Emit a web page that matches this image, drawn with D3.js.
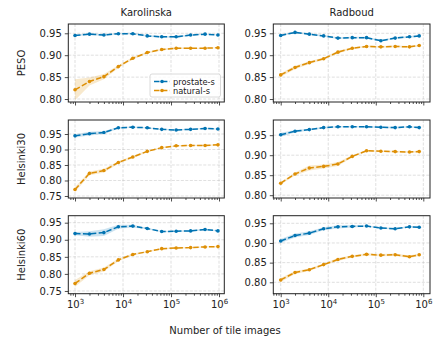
<!DOCTYPE html>
<html>
<head>
<meta charset="utf-8">
<script src="https://cdn.jsdelivr.net/npm/d3@7"></script>
<style>
  body { margin: 0; background: #fff; }
  text { font-family: "DejaVu Sans", sans-serif; fill: #222; }
</style>
</head>
<body>
<svg id="chart" width="438" height="344"></svg>
<script>
// data
var sites = ["Karolinska", "Radboud"];
var testSets = ["PESO", "Helsinki30", "Helsinki60"];
var seriesNames = ["prostate-s", "natural-s"];

var tilesKarolinska = [1000, 2000, 4000, 8000, 16000, 32000, 64000, 128000, 256000, 512000, 950000];
var tilesRadboud = [1000, 2000, 4000, 8000, 16000, 32000, 64000, 128000, 256000, 512000, 820000];

var karPesoProstate = [0.945, 0.948, 0.946, 0.949, 0.949, 0.944, 0.942, 0.942, 0.946, 0.948, 0.946];
var karPesoProstateErr = [0.002, 0.002, 0.002, 0.002, 0.002, 0.002, 0.002, 0.002, 0.002, 0.001, 0.001];
var karPesoNatural = [0.821, 0.840, 0.851, 0.874, 0.893, 0.906, 0.913, 0.916, 0.916, 0.916, 0.917];
var karPesoNaturalErr = [0.024, 0.009, 0.006, 0.003, 0.003, 0.002, 0.002, 0.002, 0.001, 0.001, 0.001];

var radPesoProstate = [0.945, 0.952, 0.948, 0.944, 0.939, 0.940, 0.940, 0.933, 0.939, 0.942, 0.944];
var radPesoProstateErr = [0.002, 0.002, 0.002, 0.002, 0.002, 0.002, 0.002, 0.002, 0.002, 0.002, 0.002];
var radPesoNatural = [0.855, 0.872, 0.883, 0.892, 0.907, 0.916, 0.920, 0.919, 0.920, 0.919, 0.922];
var radPesoNaturalErr = [0.004, 0.004, 0.003, 0.003, 0.003, 0.002, 0.002, 0.002, 0.002, 0.002, 0.002];

var karH30Prostate = [0.944, 0.951, 0.955, 0.970, 0.972, 0.970, 0.965, 0.963, 0.965, 0.968, 0.966];
var karH30ProstateErr = [0.005, 0.006, 0.005, 0.003, 0.002, 0.002, 0.002, 0.002, 0.002, 0.002, 0.002];
var karH30Natural = [0.771, 0.823, 0.832, 0.858, 0.876, 0.894, 0.906, 0.912, 0.913, 0.913, 0.915];
var karH30NaturalErr = [0.008, 0.006, 0.006, 0.004, 0.004, 0.003, 0.002, 0.002, 0.002, 0.002, 0.002];

var radH30Prostate = [0.951, 0.960, 0.964, 0.969, 0.971, 0.971, 0.971, 0.970, 0.969, 0.971, 0.969];
var radH30ProstateErr = [0.005, 0.003, 0.002, 0.002, 0.002, 0.002, 0.002, 0.002, 0.002, 0.002, 0.002];
var radH30Natural = [0.830, 0.853, 0.868, 0.872, 0.878, 0.897, 0.911, 0.910, 0.909, 0.908, 0.909];
var radH30NaturalErr = [0.003, 0.004, 0.006, 0.005, 0.005, 0.003, 0.002, 0.002, 0.002, 0.002, 0.002];

var karH60Prostate = [0.918, 0.917, 0.921, 0.938, 0.940, 0.933, 0.924, 0.925, 0.926, 0.930, 0.926];
var karH60ProstateErr = [0.005, 0.008, 0.010, 0.006, 0.004, 0.002, 0.002, 0.002, 0.002, 0.002, 0.002];
var karH60Natural = [0.772, 0.802, 0.813, 0.841, 0.857, 0.865, 0.874, 0.876, 0.877, 0.879, 0.880];
var karH60NaturalErr = [0.010, 0.006, 0.006, 0.004, 0.003, 0.002, 0.002, 0.002, 0.002, 0.002, 0.002];

var radH60Prostate = [0.905, 0.919, 0.925, 0.936, 0.941, 0.942, 0.943, 0.938, 0.936, 0.941, 0.940];
var radH60ProstateErr = [0.005, 0.005, 0.005, 0.004, 0.004, 0.003, 0.002, 0.002, 0.002, 0.002, 0.002];
var radH60Natural = [0.806, 0.825, 0.832, 0.845, 0.858, 0.866, 0.871, 0.869, 0.870, 0.865, 0.870];
var radH60NaturalErr = [0.005, 0.004, 0.003, 0.003, 0.004, 0.003, 0.003, 0.003, 0.003, 0.003, 0.003];

var yTicksShort = [0.80, 0.85, 0.90, 0.95];
var yTicksLong = [0.75, 0.80, 0.85, 0.90, 0.95];
var xTicks = [1e3, 1e4, 1e5, 1e6];

// panels: [row][col]
var panels = [
  [{ x: tilesKarolinska, s: [[karPesoProstate, karPesoProstateErr], [karPesoNatural, karPesoNaturalErr]], yt: yTicksShort, yd: [0.7932, 0.9712] },
   { x: tilesRadboud, s: [[radPesoProstate, radPesoProstateErr], [radPesoNatural, radPesoNaturalErr]], yt: yTicksShort, yd: [0.7932, 0.9712] }],
  [{ x: tilesKarolinska, s: [[karH30Prostate, karH30ProstateErr], [karH30Natural, karH30NaturalErr]], yt: yTicksLong, yd: [0.7435, 0.9952] },
   { x: tilesRadboud, s: [[radH30Prostate, radH30ProstateErr], [radH30Natural, radH30NaturalErr]], yt: yTicksShort, yd: [0.793, 0.988] }],
  [{ x: tilesKarolinska, s: [[karH60Prostate, karH60ProstateErr], [karH60Natural, karH60NaturalErr]], yt: yTicksLong, yd: [0.742, 0.9705] },
   { x: tilesRadboud, s: [[radH60Prostate, radH60ProstateErr], [radH60Natural, radH60NaturalErr]], yt: yTicksShort, yd: [0.771, 0.9693] }]
];

var colors = ["#0173b2", "#de8f05"];
var colX = [[68.3, 224.3], [273.3, 430]];
var colXDomain = [[Math.pow(10, 2.860), Math.pow(10, 6.110)], [Math.pow(10, 2.844), Math.pow(10, 6.141)]];
var rowTop = [24, 120, 215.7];
var rowH = 78;

var svg = d3.select("#chart");

function sup(sel, d) {
  var e = Math.round(Math.log10(d));
  sel.text("");
  sel.append("tspan").text("10");
  sel.append("tspan").attr("dy", -4).attr("font-size", "7px").text(e);
}

panels.forEach(function (row, r) {
  row.forEach(function (p, c) {
    var x = d3.scaleLog().domain(colXDomain[c]).range(colX[c]);
    var y = d3.scaleLinear().domain(p.yd).range([rowTop[r] + rowH, rowTop[r]]);
    var g = svg.append("g");

    // grid
    g.selectAll(".gx").data(xTicks).enter().append("line")
      .attr("x1", function (d) { return x(d); }).attr("x2", function (d) { return x(d); })
      .attr("y1", rowTop[r]).attr("y2", rowTop[r] + rowH)
      .attr("stroke", "#b0b0b0").attr("stroke-opacity", 0.5).attr("stroke-dasharray", "3,1.5").attr("stroke-width", 0.8);
    g.selectAll(".gy").data(p.yt).enter().append("line")
      .attr("y1", function (d) { return y(d); }).attr("y2", function (d) { return y(d); })
      .attr("x1", colX[c][0]).attr("x2", colX[c][1])
      .attr("stroke", "#b0b0b0").attr("stroke-opacity", 0.5).attr("stroke-dasharray", "3,1.5").attr("stroke-width", 0.8);

    // bands then lines
    p.s.forEach(function (s, i) {
      var pts = p.x.map(function (t, k) { return { t: t, v: s[0][k], e: s[1][k] }; });
      g.append("path").datum(pts)
        .attr("d", d3.area().x(function (d) { return x(d.t); })
          .y0(function (d) { return y(d.v - d.e); }).y1(function (d) { return y(d.v + d.e); }))
        .attr("fill", colors[i]).attr("fill-opacity", 0.2);
    });
    p.s.forEach(function (s, i) {
      var pts = p.x.map(function (t, k) { return { t: t, v: s[0][k] }; });
      g.append("path").datum(pts)
        .attr("d", d3.line().x(function (d) { return x(d.t); }).y(function (d) { return y(d.v); }))
        .attr("fill", "none").attr("stroke", colors[i]).attr("stroke-width", 1.5)
        .attr("stroke-dasharray", "5.5,2.4");
      g.selectAll(".m" + i).data(pts).enter().append("circle")
        .attr("cx", function (d) { return x(d.t); }).attr("cy", function (d) { return y(d.v); })
        .attr("r", 1.8).attr("fill", colors[i]);
    });

    // x axis ticks (labels on bottom row only)
    var xMinor = [];
    for (var k = 2; k <= 6; k++) {
      for (var m = 1; m <= 9; m++) {
        var v = m * Math.pow(10, k);
        if (v >= colXDomain[c][0] && v <= colXDomain[c][1] && m > 1) xMinor.push(v);
      }
    }
    var ax = g.append("g").attr("transform", "translate(0," + (rowTop[r] + rowH) + ")");
    ax.call(d3.axisBottom(x).tickValues(xMinor).tickSize(2).tickFormat(""));
    var axM = g.append("g").attr("transform", "translate(0," + (rowTop[r] + rowH) + ")");
    axM.call(d3.axisBottom(x).tickValues(xTicks).tickSize(3.5).tickPadding(4));
    if (r === 2) {
      axM.selectAll(".tick text").attr("font-size", "10px").attr("font-family", "DejaVu Sans")
        .attr("fill", "#222").each(function (d) { sup(d3.select(this), d); });
    } else {
      axM.selectAll(".tick text").remove();
    }
    [ax, axM].forEach(function (a) {
      a.select(".domain").remove();
      a.selectAll(".tick line").attr("stroke", "#222").attr("stroke-width", 0.8);
    });

    // y axis
    var ay = g.append("g").attr("transform", "translate(" + colX[c][0] + ",0)");
    ay.call(d3.axisLeft(y).tickValues(p.yt).tickSize(3.5).tickPadding(3).tickFormat(d3.format(".2f")));
    ay.select(".domain").remove();
    ay.selectAll(".tick line").attr("stroke", "#222").attr("stroke-width", 0.8);
    ay.selectAll(".tick text").attr("font-size", "10px").attr("font-family", "DejaVu Sans").attr("fill", "#222");

    // frame
    g.append("rect").attr("x", colX[c][0]).attr("y", rowTop[r])
      .attr("width", colX[c][1] - colX[c][0]).attr("height", rowH)
      .attr("fill", "none").attr("stroke", "#222").attr("stroke-width", 1);

    if (r === 0) {
      g.append("text").attr("x", (colX[c][0] + colX[c][1]) / 2).attr("y", 15.5)
        .attr("text-anchor", "middle").attr("font-size", "10px").text(sites[c]);
    }
    if (c === 0) {
      g.append("text").attr("transform", "translate(21," + (rowTop[r] + rowH / 2) + ") rotate(-90)")
        .attr("text-anchor", "middle").attr("dominant-baseline", "central")
        .attr("font-size", "10px").text(testSets[r]);
    }

    // legend in first panel
    if (r === 0 && c === 0) {
      var lg = g.append("g");
      lg.append("rect").attr("x", 150).attr("y", 74).attr("width", 70.5).attr("height", 23)
        .attr("rx", 2).attr("fill", "#fff").attr("fill-opacity", 0.8)
        .attr("stroke", "#d0d0d0").attr("stroke-width", 0.8);
      seriesNames.forEach(function (n, i) {
        var ly = 81.5 + i * 9;
        lg.append("line").attr("x1", 154).attr("x2", 170).attr("y1", ly).attr("y2", ly)
          .attr("stroke", colors[i]).attr("stroke-width", 1.5).attr("stroke-dasharray", "5.5,2.4");
        lg.append("circle").attr("cx", 162).attr("cy", ly).attr("r", 1.8).attr("fill", colors[i]);
        lg.append("text").attr("x", 173).attr("y", ly).attr("dominant-baseline", "central")
          .attr("font-size", "8.3px").text(n);
      });
    }
  });
});

svg.append("text").attr("x", 225).attr("y", 330).attr("text-anchor", "middle")
  .attr("dominant-baseline", "central").attr("font-size", "10px").text("Number of tile images");
</script>
</body>
</html>
